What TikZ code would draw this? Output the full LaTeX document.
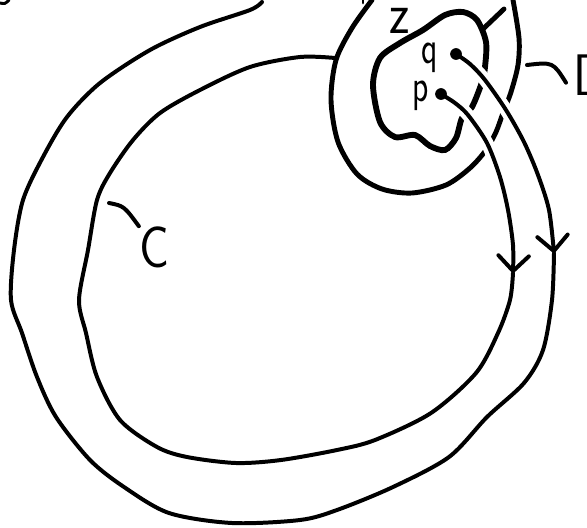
\documentclass[tikz,border=0pt]{standalone}
\usepackage{fontspec}
\usetikzlibrary{arrows.meta,calc}

\begin{document}
\begin{tikzpicture}[x=0.03cm, y=-0.03cm,
      curve/.style={line width=3.4pt, line cap=round, line join=round},
      blob/.style={line width=5pt, line cap=round},
      nbhd/.style={line width=4.2pt, line cap=round},
      gap/.style={preaction={draw=white, line width=11pt, -}},
      tip/.style={-{Straight Barb[length=13pt, width=26pt, round]}},
      dot/.style={circle, fill=black, inner sep=0pt, minimum size=10pt},
      lbl/.style={font=\sffamily\fontsize{50}{55}\selectfont, inner sep=0pt, xscale=0.85},
      small/.style={font=\sffamily\fontsize{40}{44}\selectfont, inner sep=0pt, xscale=0.72},
      tick/.style={line width=3.4pt, line cap=round},
    ]
    \useasboundingbox (0,0) rectangle (587,527);
    \clip (0,0) rectangle (587,527);

    \coordinate (p)    at (441,94);
    \coordinate (q)    at (456,54);
    \coordinate (pa)   at (513,273);
    \coordinate (qa)   at (554,253);
    \coordinate (pend) at (335,58);
    \coordinate (qend) at (262,2);

    % neighbourhood D and the blob round p, q
    \draw[nbhd] plot[smooth] coordinates {(372,0) (352,28) (336,60) (331,100) (338,142) (357,174) (382,189) (412,193) (446,185) (470,168) (486,150) (496,132) (503,113) (511,92) (518,65) (519,38) (513,0)};
    \draw[nbhd] (483,29) -- (504,9);
    \draw[blob] plot[smooth cycle] coordinates {(373,85) (380,58) (400,43) (423,30) (445,15) (463,12) (477,20) (486,42) (485,67) (482,82) (472,107) (462,118) (456,138) (445,150) (430,146) (415,135) (395,137) (380,122)};

    % curve from p (inner loop)
    \draw[curve, gap, tip] plot[smooth] coordinates {(p) (455,103) (468,115) (487,143) (500,177) (508,210) (513,245) (pa)};
    \draw[curve] plot[smooth] coordinates {(pa) (510,300) (498,333) (476,373) (431,413) (375,440) (337,450) (281,460) (236,463) (187,457) (157,447) (120,420) (97,377) (86,333) (79,300) (88,250) (97,200) (110,173) (133,140) (160,113) (200,90) (250,67) (300,57) (pend)};

    % curve from q (outer loop)
    \draw[curve, gap, tip] plot[smooth] coordinates {(q) (470,64) (485,80) (506,110) (524,142) (538,175) (549,210) (qa)};
    \draw[curve] plot[smooth] coordinates {(qa) (552,300) (543,350) (524,383) (487,417) (449,457) (393,487) (337,510) (300,520) (232,523) (169,513) (124,487) (90,460) (56,417) (37,377) (22,333) (11,300) (14,250) (23,200) (43,157) (67,117) (100,83) (150,50) (200,27) (250,10) (qend)};

    \node[dot] (pdot) at (p) {};
    \node[dot] (qdot) at (q) {};

    \node[small, anchor=base] (plab) at (421,101) {p};
    \node[small, anchor=base] (qlab) at (430,63) {q};
    \node[lbl] (Clab) at (154,247) {C};
    \node[lbl, anchor=base west] (Dlab) at (573,95) {D};
    \node[lbl, anchor=base] (zfrag) at (400,33) {z};

    \coordinate (ctk) at (109,203);
    \coordinate (dtk) at (527,65);
    \draw[tick] (ctk) .. controls (124,206) .. (Clab.north west);
    \draw[tick] (dtk) .. controls (553,62) .. ($(Dlab.west)+(-7,8)$);

    \draw[tick, line width=2.5pt] (0,3) .. controls (5,4) .. (9,0);
    \draw[tick, line width=2.5pt] (363,0) -- (363,3);
  \end{tikzpicture}
\end{document}
